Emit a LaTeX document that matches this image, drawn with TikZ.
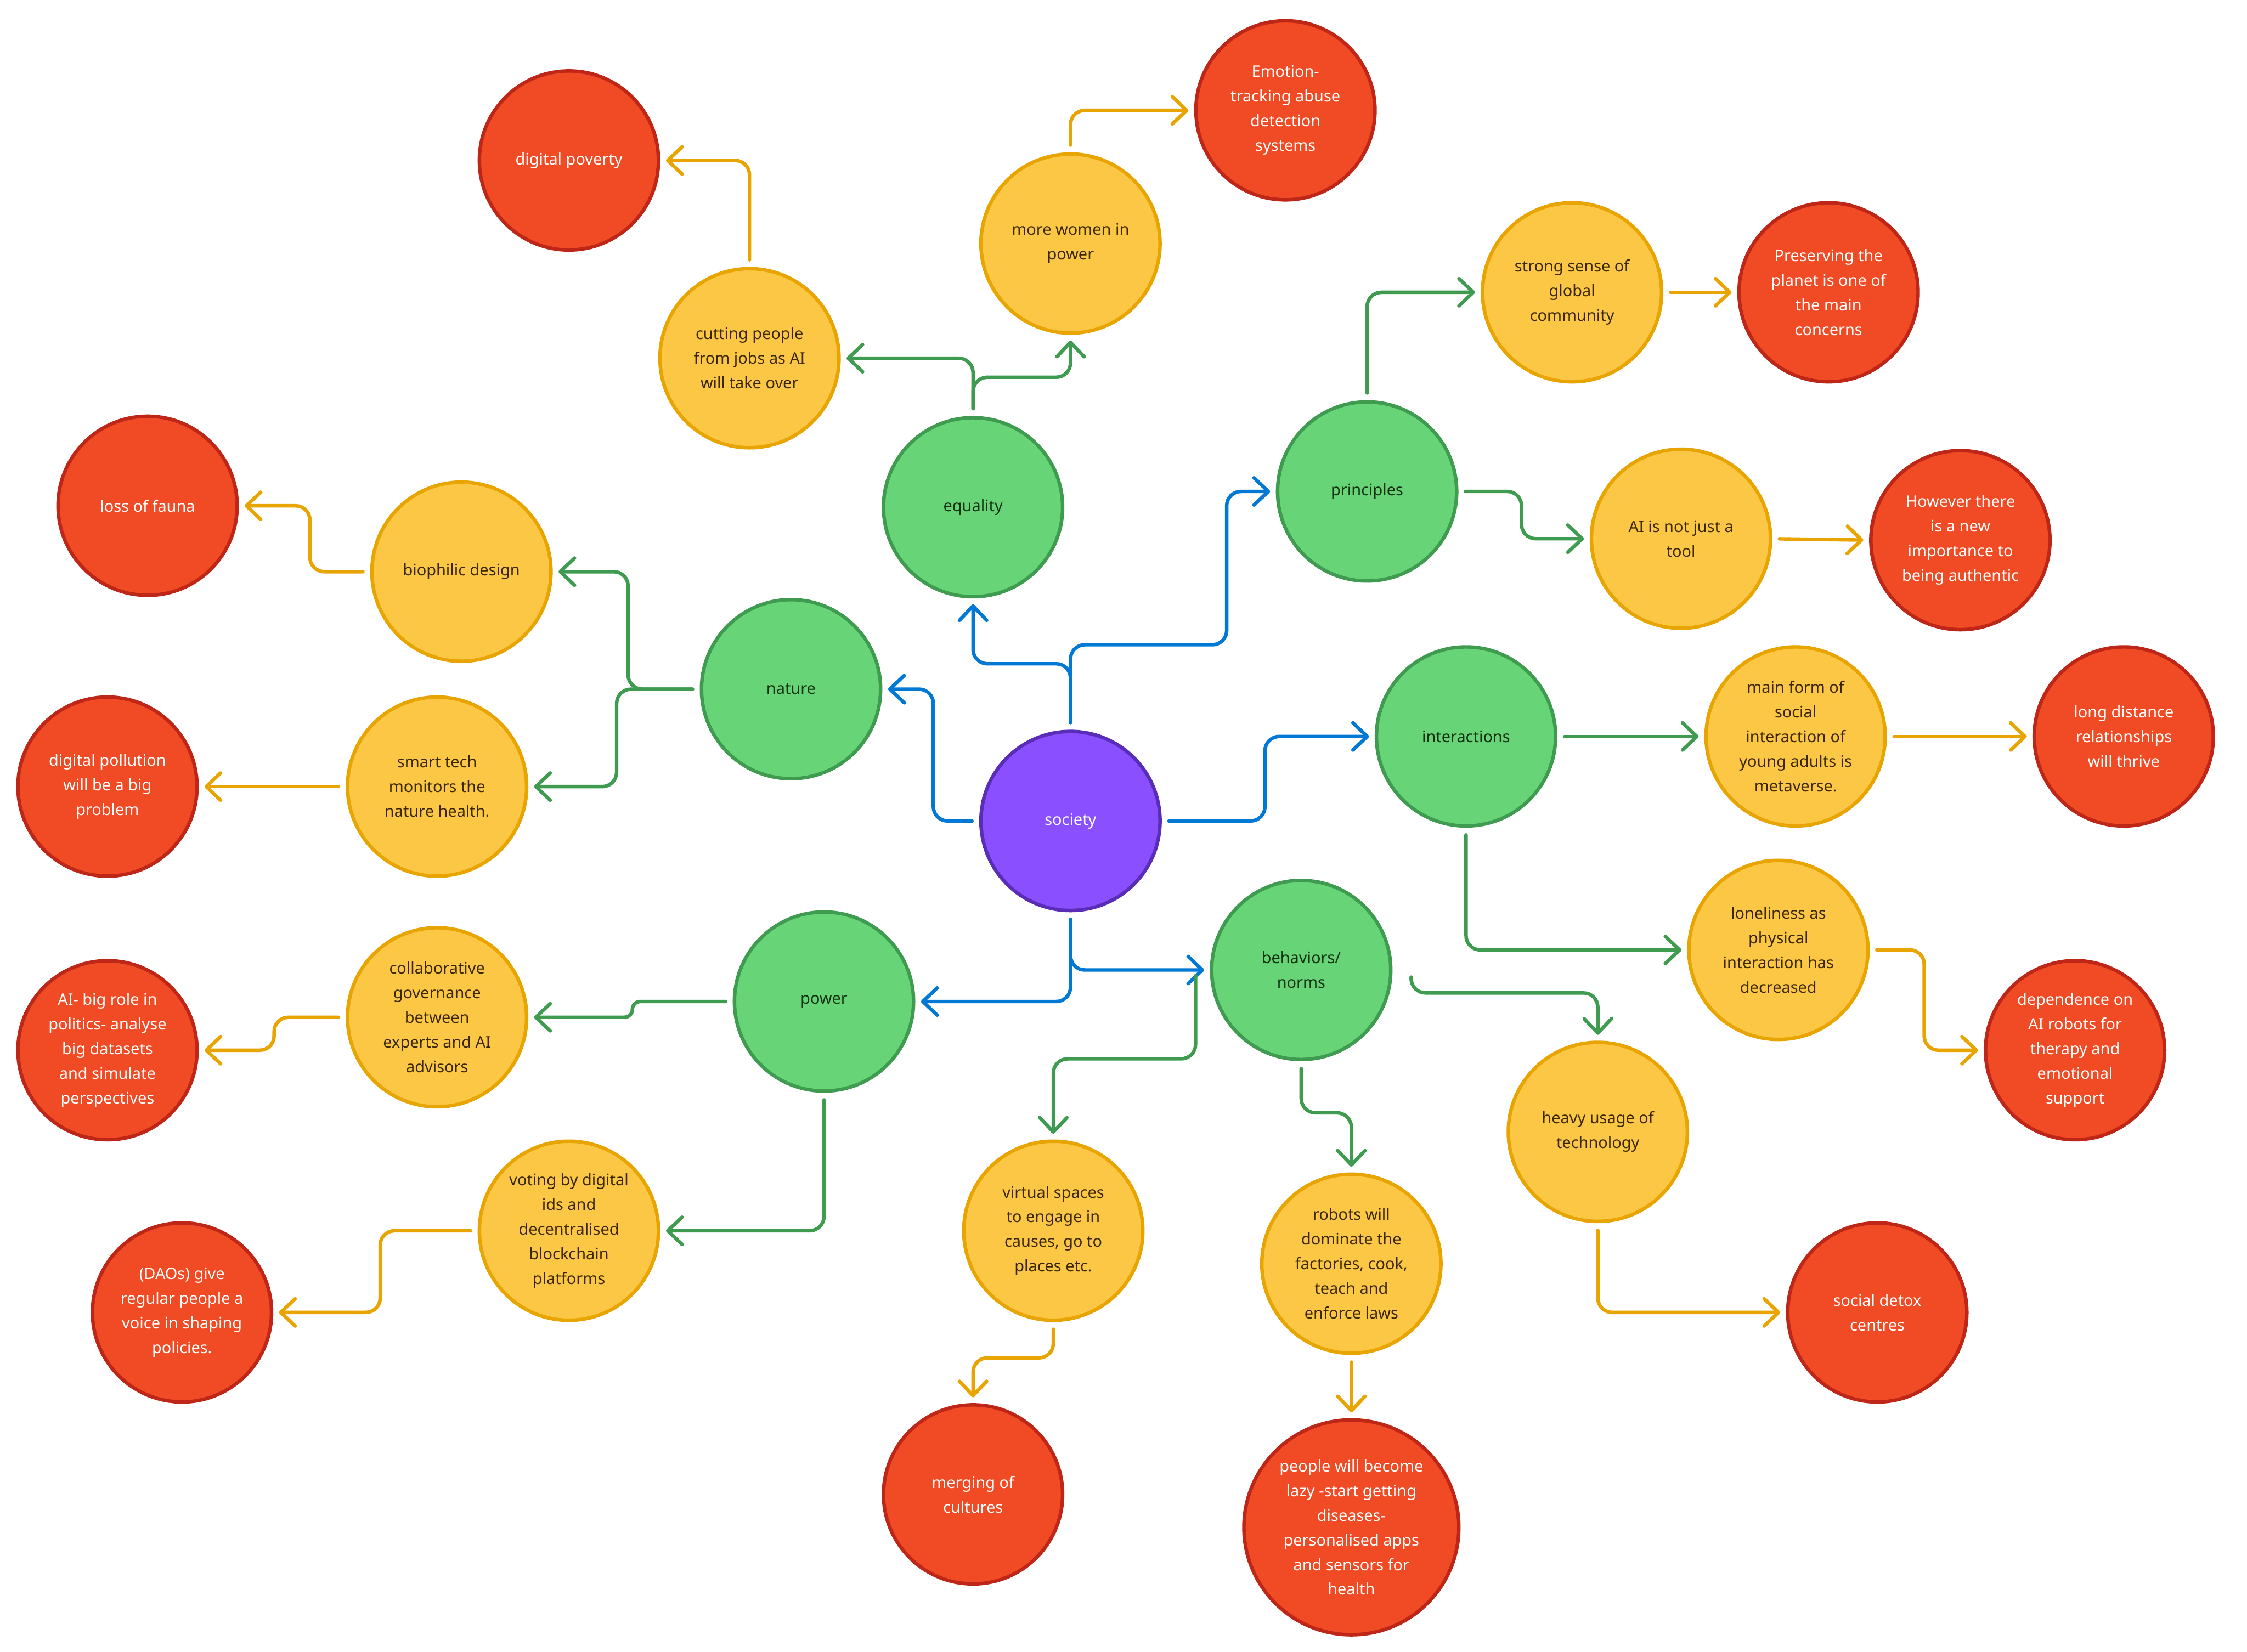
\documentclass[tikz,border=0pt]{standalone}
\usepackage{fontspec}
\setmainfont{Noto Sans}
\usetikzlibrary{arrows.meta,calc}
\definecolor{purpfill}{HTML}{8A50FF}
\definecolor{purpline}{HTML}{5A2DB8}
\definecolor{grnfill}{HTML}{67D577}
\definecolor{grnline}{HTML}{3F9B4F}
\definecolor{grntext}{HTML}{10300F}
\definecolor{yelfill}{HTML}{FCC744}
\definecolor{yelline}{HTML}{E8A400}
\definecolor{yeltext}{HTML}{3A2700}
\definecolor{redfill}{HTML}{F04B24}
\definecolor{redline}{HTML}{BE2617}
\definecolor{bluel}{HTML}{0078D4}
\definecolor{orl}{HTML}{E8A400}
\begin{document}
\begin{tikzpicture}[x=0.02cm,y=-0.02cm,
  bub/.style={circle, minimum size=2.5cm, inner sep=0pt, line width=1.4pt, align=center, font=\fontsize{6.3}{9.8}\selectfont},
  purp/.style={bub, fill=purpfill, draw=purpline, text=white},
  grn/.style={bub, fill=grnfill, draw=grnline, text=grntext},
  yel/.style={bub, fill=yelfill, draw=yelline, text=yeltext},
  rd/.style={bub, fill=redfill, draw=redline, text=white},
  conn/.style={line width=1.4pt, rounded corners=0.2cm, line cap=round, shorten <=0.1cm, shorten >=0.08cm, -{Straight Barb[length=0.2cm,width=0.38cm,round]}},
  bl/.style={conn, draw=bluel},
  gl/.style={conn, draw=grnline},
  ol/.style={conn, draw=orl}]
\fill[white] (0,0) rectangle (1568,1153);
\useasboundingbox (0,0) rectangle (1568,1153);

% centre
\node[purp] (soc) at (747,573) {society};
% green
\node[grn] (eq) at (679,354) {equality};
\node[grn] (pr) at (954,343) {principles};
\node[grn] (nat) at (552,481) {nature};
\node[grn] (inter) at (1023,514) {interactions};
\node[grn] (pow) at (575,699) {power};
\node[grn] (beh) at (908,677) {behaviors/\\norms};
% yellow
\node[yel] (cut) at (523,250) {cutting people\\from jobs as AI\\will take over};
\node[yel] (women) at (747,170) {more women in\\power};
\node[yel] (strong) at (1097,204) {strong sense of\\global\\community};
\node[yel] (ai) at (1173,376) {AI is not just a\\tool};
\node[yel] (bio) at (322,399) {biophilic design};
\node[yel] (smart) at (305,549) {smart tech\\monitors the\\nature health.};
\node[yel] (main) at (1253,514) {main form of\\social\\interaction of\\young adults is\\metaverse.};
\node[yel] (lone) at (1241,663) {loneliness as\\physical\\interaction has\\decreased};
\node[yel] (collab) at (305,710) {collaborative\\governance\\between\\experts and AI\\advisors};
\node[yel] (vote) at (397,859) {voting by digital\\ids and\\decentralised\\blockchain\\platforms};
\node[yel] (virt) at (735,859) {virtual spaces\\to engage in\\causes, go to\\places etc.};
\node[yel] (rob) at (943,882) {robots will\\dominate the\\factories, cook,\\teach and\\enforce laws};
\node[yel] (heavy) at (1115,790) {heavy usage of\\technology};
% red
\node[rd] (dpov) at (397,112) {digital poverty};
\node[rd] (emo) at (897,77) {Emotion-\\tracking abuse\\detection\\systems};
\node[rd] (pres) at (1276,204) {Preserving the\\planet is one of\\the main\\concerns};
\node[rd] (how) at (1368,377) {However there\\is a new\\importance to\\being authentic};
\node[rd] (fauna) at (103,353) {loss of fauna};
\node[rd] (dpol) at (75,549) {digital pollution\\will be a big\\problem};
\node[rd] (long) at (1482,514) {long distance\\relationships\\will thrive};
\node[rd] (dep) at (1448,733) {dependence on\\AI robots for\\therapy and\\emotional\\support};
\node[rd] (aibig) at (75,733) {AI- big role in\\politics- analyse\\big datasets\\and simulate\\perspectives};
\node[rd] (dao) at (127,916) {(DAOs) give\\regular people a\\voice in shaping\\policies.};
\node[rd] (merge) at (679,1043) {merging of\\cultures};
\node[rd, minimum size=3cm] (lazy) at (943,1066) {people will become\\lazy -start getting\\diseases-\\personalised apps\\and sensors for\\health};
\node[rd] (detox) at (1310,916) {social detox\\centres};

% blue connectors
\draw[bl] (soc.north) -- ++(0,-46) -| (eq.south);
\draw[bl] (soc.north) |- (856,450) |- (pr.west);
\draw[bl] (soc.west) -- ++(-32,0) |- (nat.east);
\draw[bl] (soc.east) -- ++(72,0) |- (inter.west);
\draw[bl] (soc.south) |- (pow.east);
\draw[bl] (soc.south) |- (beh.west);

% green connectors
\draw[gl] (eq.north) |- (cut.east);
\draw[gl] (eq.north) -- ++(0,-27) -| (women.south);
\draw[gl] (pr.north) |- (strong.west);
\draw[gl] (pr.east) -- ++(44,0) |- (ai.west);
\draw[gl] (nat.west) -- ++(-50,0) |- (bio.east);
\draw[gl] (nat.west) -- ++(-58,0) |- (smart.east);
\draw[gl] (inter.east) -- (main.west);
\draw[gl] (inter.south) |- (lone.west);
\draw[gl, rounded corners=0.11cm] (pow.west) -- ++(-70,0) |- (collab.east);
\draw[gl] (pow.south) |- (vote.east);
\coordinate (bw) at ($(beh.west)+(-10,4)$);
\draw[gl, shorten <=0pt] (bw) -- ++(0,58) -| (virt.north);
\draw[gl] (beh.south) -- ++(0,36) -| (rob.north);
\coordinate (be) at ($(beh.east)+(13,5)$);
\draw[gl, shorten <=0pt] (be) -- ++(0,11) -| (heavy.north);

% orange connectors
\draw[ol] (cut.north) |- (dpov.east);
\draw[ol] (women.north) |- (emo.west);
\draw[ol] (strong.east) -- (pres.west);
\draw[ol] (ai.east) -- (how.west);
\draw[ol] (bio.west) -- ++(-42,0) |- (fauna.east);
\draw[ol] (smart.west) -- (dpol.east);
\draw[ol] (main.east) -- (long.west);
\draw[ol] (lone.east) -- ++(38,0) |- (dep.west);
\draw[ol] (collab.west) -- ++(-50,0) |- (aibig.east);
\draw[ol] (vote.west) -- ++(-68,0) |- (dao.east);
\draw[ol] (virt.south) -- ++(0,25) -| (merge.north);
\draw[ol] (rob.south) -- (lazy.north);
\draw[ol] (heavy.south) |- (detox.west);
\end{tikzpicture}
\end{document}
